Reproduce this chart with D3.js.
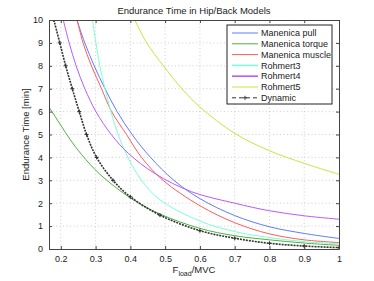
<!DOCTYPE html>
<html>
<head>
<meta charset="utf-8">
<script src="https://cdn.jsdelivr.net/npm/d3@7"></script>
<style>
	body { margin: 0; background: #fff; }
	svg { font-family: "Liberation Sans", Arial, sans-serif; }
</style>
</head>
<body>
<script>
// values: [F_load/MVC, endurance time in min]
var manenicaPull = [[0.246, 10], [0.269, 9], [0.296, 8], [0.327, 7], [0.362, 6], [0.405, 5], [0.458, 4], [0.525, 3], [0.6, 2.2], [0.7, 1.46], [0.8, 0.97], [0.9, 0.68], [1, 0.46]];
var manenicaTorque = [[0.166, 6.2], [0.2, 5.4], [0.226, 4.8], [0.26, 4.12], [0.312, 3.27], [0.4, 2.23], [0.485, 1.53], [0.6, 0.9], [0.7, 0.58], [0.8, 0.40], [0.9, 0.26], [1, 0.16]];
var manenicaMuscle = [[0.247, 10], [0.264, 9], [0.288, 8], [0.317, 7], [0.346, 6], [0.389, 5], [0.432, 4], [0.494, 3], [0.6, 1.89], [0.7, 1.15], [0.8, 0.66], [0.9, 0.40], [1, 0.28]];
var rohmert3 = [[0.291, 10], [0.301, 9], [0.312, 8], [0.327, 7], [0.344, 6], [0.365, 5], [0.393, 4], [0.432, 3], [0.485, 2.15], [0.6, 1.22], [0.7, 0.76], [0.8, 0.5], [0.9, 0.32], [1, 0.23]];
var rohmert4 = [[0.207, 10], [0.224, 9], [0.244, 8], [0.269, 7], [0.301, 6], [0.345, 5], [0.394, 4.18], [0.47, 3.3], [0.576, 2.5], [0.7, 2.0], [0.8, 1.67], [0.9, 1.45], [1, 1.3]];
var rohmert5 = [[0.413, 10], [0.447, 9], [0.495, 8], [0.548, 7], [0.6, 6.2], [0.7, 5.05], [0.8, 4.29], [0.9, 3.74], [1, 3.26]];
var dynamic = [[0.180, 10], [0.197, 9], [0.214, 8], [0.233, 7], [0.253, 6], [0.274, 5], [0.303, 4], [0.35, 3], [0.40, 2.28], [0.485, 1.48], [0.6, 0.80], [0.7, 0.47], [0.8, 0.25], [0.9, 0.13], [1, 0.06]];

var seriesNames = ['Manenica pull', 'Manenica torque', 'Manenica muscle', 'Rohmert3', 'Rohmert4', 'Rohmert5', 'Dynamic'];
var seriesColors = ['#5f7bff', '#4cb43c', '#ff5a5a', '#7dffd2', '#b35cff', '#c9e43c', '#333333'];
var xTicks = [0.2, 0.3, 0.4, 0.5, 0.6, 0.7, 0.8, 0.9, 1];
var yTicks = [0, 1, 2, 3, 4, 5, 6, 7, 8, 9, 10];

var width = 374, height = 281;
var margin = { left: 49, right: 35, top: 20, bottom: 32 };
var plotW = width - margin.left - margin.right,
	plotH = height - margin.top - margin.bottom;

var svg = d3.select('body').append('svg')
	.attr('width', width)
	.attr('height', height);

var x = d3.scaleLinear().domain([0.166, 1]).range([0, plotW]);
var y = d3.scaleLinear().domain([0, 10]).range([plotH, 0]);

var plot = svg.append('g').attr('transform', 'translate(' + margin.left + ',' + margin.top + ')');

svg.append('defs').append('clipPath').attr('id', 'plotClip')
	.append('rect').attr('width', plotW).attr('height', plotH);

// dotted grid
var grid = plot.append('g').attr('class', 'grid')
	.attr('stroke', '#c4c4c4').attr('stroke-width', 0.8).attr('stroke-dasharray', '1,2.5');
grid.selectAll('.gx').data(xTicks.filter(function (d) { return d < 1; })).enter().append('line')
	.attr('x1', function (d) { return x(d); }).attr('x2', function (d) { return x(d); })
	.attr('y1', 0).attr('y2', plotH);
grid.selectAll('.gy').data(yTicks.filter(function (d) { return d > 0 && d < 10; })).enter().append('line')
	.attr('y1', function (d) { return y(d); }).attr('y2', function (d) { return y(d); })
	.attr('x1', 0).attr('x2', plotW);

// curves
var line = d3.line()
	.x(function (d) { return x(d[0]); })
	.y(function (d) { return y(d[1]); })
	.curve(d3.curveCatmullRom.alpha(0.5));

var allSeries = [manenicaPull, manenicaTorque, manenicaMuscle, rohmert3, rohmert4, rohmert5, dynamic];
var curves = plot.append('g').attr('clip-path', 'url(#plotClip)');
allSeries.forEach(function (s, i) {
	var p = curves.append('path')
		.attr('d', line(s))
		.attr('fill', 'none')
		.attr('stroke', seriesColors[i])
		.attr('stroke-width', 1);
	if (i === 6) {
		p.attr('stroke-width', 1.6).attr('stroke-dasharray', '2,1');
	}
});

// '+' markers for the Dynamic series
curves.selectAll('.mark').data(dynamic).enter().append('path')
	.attr('class', 'mark')
	.attr('transform', function (d) { return 'translate(' + x(d[0]) + ',' + y(d[1]) + ')'; })
	.attr('d', 'M-2,0H2M0,-2V2')
	.attr('stroke', '#333').attr('stroke-width', 1);

// axes, ticks pointing inward like the original
var fmtX = function (d) { return d === 1 ? '1' : d.toFixed(1); };
var xAxis = plot.append('g').attr('transform', 'translate(0,' + plotH + ')')
	.call(d3.axisBottom(x).tickValues(xTicks).tickFormat(fmtX).tickSizeInner(-3).tickSizeOuter(0).tickPadding(7));
var xAxisTop = plot.append('g')
	.call(d3.axisTop(x).tickValues(xTicks).tickFormat('').tickSizeInner(-3).tickSizeOuter(0));
var yAxis = plot.append('g')
	.call(d3.axisLeft(y).tickValues(yTicks).tickSizeInner(-3).tickSizeOuter(0).tickPadding(6));
var yAxisRight = plot.append('g').attr('transform', 'translate(' + plotW + ',0)')
	.call(d3.axisRight(y).tickValues(yTicks).tickFormat('').tickSizeInner(-3).tickSizeOuter(0));

[xAxis, xAxisTop, yAxis, yAxisRight].forEach(function (a) {
	a.select('.domain').attr('stroke', '#444').attr('stroke-width', 1);
	a.selectAll('.tick line').attr('stroke', '#444');
	a.selectAll('text').attr('font-size', 9).attr('fill', '#222')
		.attr('font-family', '"Liberation Sans", Arial, sans-serif');
});

// title and axis labels
svg.append('text')
	.attr('x', margin.left + plotW / 2).attr('y', 14)
	.attr('text-anchor', 'middle').attr('font-size', 9.5).attr('fill', '#222')
	.text('Endurance Time in Hip/Back Models');

var xLabel = svg.append('text')
	.attr('x', margin.left + plotW / 2).attr('y', 273)
	.attr('text-anchor', 'middle').attr('font-size', 9.5).attr('fill', '#222');
xLabel.append('tspan').text('F');
xLabel.append('tspan').attr('font-size', 7).attr('dy', 3).text('load');
xLabel.append('tspan').attr('dy', -3).text('/MVC');

svg.append('text')
	.attr('transform', 'translate(29,' + (margin.top + plotH / 2) + ') rotate(-90)')
	.attr('text-anchor', 'middle').attr('font-size', 9.5).attr('fill', '#222')
	.text('Endurance Time [min]');

// legend
var legend = plot.append('g').attr('transform', 'translate(' + (227 - margin.left) + ',' + (25 - margin.top) + ')');
legend.append('rect')
	.attr('width', 105).attr('height', 79)
	.attr('fill', '#fff').attr('stroke', '#222').attr('stroke-width', 1);
var rowH = 10.8;
var rows = legend.selectAll('.row').data(seriesNames).enter().append('g')
	.attr('transform', function (d, i) { return 'translate(0,' + (8 + i * rowH) + ')'; });
rows.append('line')
	.attr('x1', 5).attr('x2', 31)
	.attr('stroke', function (d, i) { return seriesColors[i]; })
	.attr('stroke-width', function (d, i) { return i === 3 || i === 4 ? 1.6 : 1; })
	.attr('stroke-dasharray', function (d, i) { return i === 6 ? '4,3' : null; });
rows.filter(function (d, i) { return i === 6; }).append('path')
	.attr('d', 'M16,0H20M18,-2V2').attr('stroke', '#333');
rows.append('text')
	.attr('x', 34).attr('dy', '0.35em')
	.attr('font-size', 9).attr('fill', '#222')
	.text(function (d) { return d; });
</script>
</body>
</html>
